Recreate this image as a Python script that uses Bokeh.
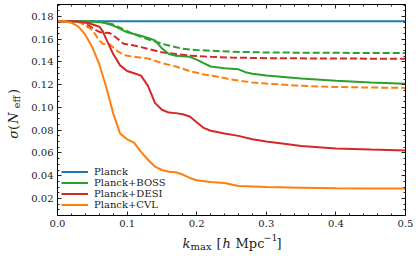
import math
from bokeh.plotting import figure
from bokeh.layouts import column, row
from bokeh.models import (Range1d, LinearAxis, Legend, LegendItem,
                          NumeralTickFormatter, FixedTicker, CustomLabelingPolicy)
from bokeh.core.properties import value
from bokeh.embed import file_html
from bokeh.resources import INLINE

# ---------------- data ----------------
k_planck = [0.0, 0.5]
s_planck = [0.1758, 0.1758]

k_boss = [0.0, 0.05, 0.06, 0.07, 0.08, 0.09, 0.10, 0.11, 0.12, 0.13, 0.14, 0.15, 0.16,
          0.17, 0.18, 0.19, 0.20, 0.21, 0.22, 0.24, 0.26, 0.27, 0.28, 0.30, 0.35, 0.40,
          0.45, 0.50]
s_boss = [0.1758, 0.1756, 0.1750, 0.1740, 0.1720, 0.1690, 0.1660, 0.1645, 0.1630, 0.1610,
          0.1590, 0.1520, 0.1470, 0.1455, 0.1450, 0.1445, 0.1420, 0.1390, 0.1360, 0.1345,
          0.1335, 0.1310, 0.1296, 0.1280, 0.1255, 0.1235, 0.1220, 0.1208]

k_boss_d = [0.0, 0.06, 0.08, 0.10, 0.12, 0.13, 0.14, 0.15, 0.16, 0.18, 0.20, 0.25, 0.30,
            0.40, 0.50]
s_boss_d = [0.1758, 0.1755, 0.1730, 0.1670, 0.1620, 0.1600, 0.1580, 0.1560, 0.1545, 0.1515,
            0.1505, 0.1490, 0.1483, 0.1480, 0.1478]

k_desi = [0.0, 0.03, 0.045, 0.055, 0.06, 0.065, 0.07, 0.08, 0.09, 0.10, 0.11, 0.12, 0.13,
          0.14, 0.15, 0.16, 0.17, 0.18, 0.19, 0.20, 0.21, 0.22, 0.24, 0.26, 0.28, 0.30,
          0.32, 0.35, 0.40, 0.45, 0.50]
s_desi = [0.1758, 0.1755, 0.1740, 0.1720, 0.1710, 0.1670, 0.1600, 0.1470, 0.1370, 0.1320,
          0.1300, 0.1280, 0.1190, 0.1040, 0.0980, 0.0955, 0.0950, 0.0940, 0.0920, 0.0870,
          0.0820, 0.0795, 0.0770, 0.0750, 0.0720, 0.0700, 0.0685, 0.0660, 0.0640, 0.0630,
          0.0622]

k_desi_d = [0.0, 0.03, 0.045, 0.055, 0.062, 0.075, 0.085, 0.095, 0.11, 0.13, 0.15, 0.17,
            0.19, 0.22, 0.25, 0.30, 0.40, 0.50]
s_desi_d = [0.1758, 0.1755, 0.1720, 0.1680, 0.1660, 0.1655, 0.1610, 0.1560, 0.1545, 0.1515,
            0.1485, 0.1470, 0.1455, 0.1445, 0.1438, 0.1433, 0.1430, 0.1428]

k_cvl = [0.0, 0.01, 0.02, 0.03, 0.04, 0.05, 0.06, 0.07, 0.08, 0.09, 0.10, 0.11, 0.12, 0.13,
         0.14, 0.15, 0.16, 0.17, 0.18, 0.19, 0.20, 0.22, 0.24, 0.26, 0.28, 0.30, 0.35, 0.40,
         0.45, 0.50]
s_cvl = [0.1758, 0.1757, 0.1745, 0.1710, 0.1640, 0.1530, 0.1380, 0.1180, 0.0950, 0.0770,
         0.0720, 0.0690, 0.0610, 0.0540, 0.0480, 0.0450, 0.0435, 0.0430, 0.0410, 0.0380,
         0.0360, 0.0345, 0.0335, 0.0310, 0.0305, 0.0300, 0.0295, 0.0290, 0.0288, 0.0287]

k_cvl_d = [0.0, 0.03, 0.04, 0.05, 0.06, 0.065, 0.075, 0.085, 0.095, 0.11, 0.13, 0.15, 0.17,
           0.19, 0.21, 0.23, 0.25, 0.28, 0.30, 0.35, 0.40, 0.45, 0.50]
s_cvl_d = [0.1758, 0.1755, 0.1720, 0.1680, 0.1590, 0.1560, 0.1555, 0.1500, 0.1460, 0.1445,
           0.1430, 0.1390, 0.1360, 0.1320, 0.1290, 0.1270, 0.1245, 0.1220, 0.1210, 0.1190,
           0.1180, 0.1175, 0.1172]

legend_labels = ["Planck", "Planck+BOSS", "Planck+DESI", "Planck+CVL"]
x_ticks = [0.0, 0.1, 0.2, 0.3, 0.4, 0.5]
y_ticks = [0.02, 0.04, 0.06, 0.08, 0.10, 0.12, 0.14, 0.16, 0.18]

BLUE, GREEN, RED, ORANGE = "#1f77b4", "#2ca02c", "#d62728", "#ff7f0e"
FONT = "DejaVu Serif"
TXT = "#222222"

# ---------------- main figure ----------------
p = figure(width=392, height=232, output_backend="svg", toolbar_location=None,
           x_range=Range1d(0.0, 0.5), y_range=Range1d(0.005, 0.1905),
           min_border_left=28, min_border_right=15, min_border_top=4, min_border_bottom=17)
p.background_fill_color = "white"
p.border_fill_color = "white"
p.outline_line_color = "black"
p.outline_line_width = 1
p.xgrid.visible = False
p.ygrid.visible = False

x_minor = [i * 0.02 for i in range(26)]
y_minor = [i * 0.005 for i in range(1, 39)]
xt = FixedTicker(ticks=x_ticks, minor_ticks=x_minor)
yt = FixedTicker(ticks=y_ticks, minor_ticks=y_minor)


def style_axis(ax, show_labels):
    ax.major_tick_in = 4
    ax.major_tick_out = 0
    ax.minor_tick_in = 2
    ax.minor_tick_out = 0
    ax.major_tick_line_color = TXT
    ax.minor_tick_line_color = TXT
    ax.axis_line_color = "black"
    ax.major_label_text_font = FONT
    ax.major_label_text_color = TXT
    if show_labels:
        ax.major_label_text_font_size = "10px"
    else:
        ax.major_label_text_font_size = "1px"
        ax.major_label_policy = CustomLabelingPolicy(code="return []")
        ax.major_label_standoff = 0


p.xaxis.ticker = xt
p.yaxis.ticker = yt
p.xaxis.formatter = NumeralTickFormatter(format="0.0")
p.yaxis.formatter = NumeralTickFormatter(format="0.00")
style_axis(p.xaxis[0], True)
style_axis(p.yaxis[0], True)
p.xaxis.major_label_standoff = 4
p.yaxis.major_label_standoff = 4

top = LinearAxis(ticker=xt)
right = LinearAxis(ticker=yt)
style_axis(top, False)
style_axis(right, False)
p.add_layout(top, "above")
p.add_layout(right, "right")

# ---------------- lines ----------------
DASH = "7 3"
r_pl = p.line(k_planck, s_planck, line_color=BLUE, line_width=2)
r_bd = p.line(k_boss_d, s_boss_d, line_color=GREEN, line_width=2, line_dash=DASH)
r_dd = p.line(k_desi_d, s_desi_d, line_color=RED, line_width=2, line_dash=DASH)
r_cd = p.line(k_cvl_d, s_cvl_d, line_color=ORANGE, line_width=2, line_dash=DASH)
r_b = p.line(k_boss, s_boss, line_color=GREEN, line_width=2)
r_d = p.line(k_desi, s_desi, line_color=RED, line_width=2)
r_c = p.line(k_cvl, s_cvl, line_color=ORANGE, line_width=2)

legend = Legend(items=[LegendItem(label=legend_labels[0], renderers=[r_pl]),
                       LegendItem(label=legend_labels[1], renderers=[r_b]),
                       LegendItem(label=legend_labels[2], renderers=[r_d]),
                       LegendItem(label=legend_labels[3], renderers=[r_c])],
                location=(4, 5))
legend.glyph_width = 27
legend.glyph_height = 11
legend.label_height = 11
legend.spacing = 0
legend.padding = 0
legend.margin = 0
legend.label_standoff = 6
legend.label_text_font = FONT
legend.label_text_font_size = "10px"
legend.label_text_color = TXT
legend.background_fill_alpha = 0
legend.border_line_alpha = 0
p.add_layout(legend)


# ---------------- label strips (pixel coordinates) ----------------
def strip(w, h):
    f = figure(width=w, height=h, output_backend="svg", toolbar_location=None,
               x_range=Range1d(0, w), y_range=Range1d(0, h),
               x_axis_type=None, y_axis_type=None,
               min_border_left=0, min_border_right=0, min_border_top=0, min_border_bottom=0)
    f.outline_line_color = None
    f.background_fill_color = "white"
    f.border_fill_color = "white"
    return f


def put(f, text, x, y, size, italic=False, angle=0.0):
    f.text(x=[x], y=[y], text=[text], text_font=value(FONT), text_font_size=size,
           text_font_style="italic" if italic else "normal", text_color=TXT,
           angle=angle, text_align="left", text_baseline="alphabetic")


# y label strip: sigma(N_eff), rotated
fy = strip(28, 232)
A = math.pi / 2
put(fy, "\u03c3", 13, 84.5, "13px", italic=True, angle=A)
put(fy, "(", 13, 94, "13px", angle=A)
put(fy, "N", 13, 101, "13px", italic=True, angle=A)
put(fy, "eff", 16, 118, "9.5px", angle=A)
put(fy, ")", 13, 133.5, "13px", angle=A)

# x label strip: k_max [h Mpc^-1]
fx = strip(420, 24)
put(fx, "k", 182, 13, "13px", italic=True)
put(fx, "max", 190, 10, "10px")
put(fx, "[", 216, 13, "13px")
put(fx, "h", 222, 13, "13px", italic=True)
put(fx, "Mpc", 235, 13, "13px")
put(fx, "\u22121", 263, 19, "9.5px")
put(fx, "]", 276, 13, "13px")

layout = column(row(fy, p, spacing=0), fx, spacing=0)
open("out.html", "w").write(file_html(layout, INLINE))
